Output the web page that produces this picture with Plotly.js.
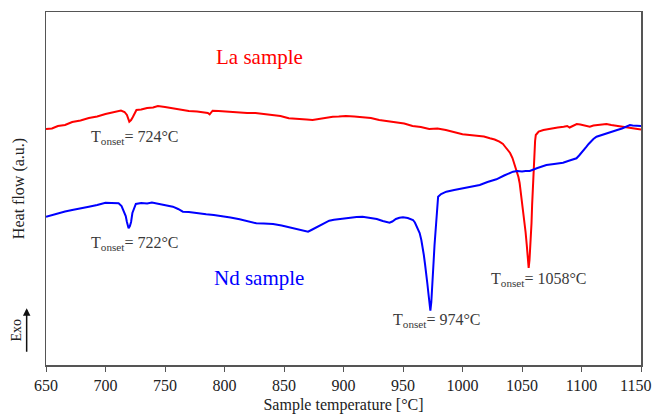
<!DOCTYPE html>
<html>
<head>
<meta charset="utf-8">
<script src="https://cdn.plot.ly/plotly-3.0.1.min.js"></script>
<style>html,body{margin:0;padding:0;background:#fff;}#chart{width:655px;height:419px;}</style>
</head>
<body>
<div id="chart"></div>
<script>
// Sample temperature [°C] and heat flow (a.u.)
var laTemp = [650,655,660,666,672,679,686,693,700,705,710,713,716,718,720,721.5,723,726,730,735,740,744,750,756,763,770,777,783,786,787.5,790,795,800,806,812,819,826,833,840,847,854,859,864,869,874,879,884,891,896,902,909,916,923,930,937,944,951,958,965,972,979,986,993,1000,1006,1012,1018,1023,1027,1031,1034,1036,1038,1040,1042,1044,1046,1047,1048,1049,1050,1051,1052,1053,1054,1055,1055.6,1056.3,1057.3,1058,1058.5,1059,1059.5,1060,1060.5,1061,1061.6,1064,1068,1072,1076,1080,1085,1088,1090,1093,1096,1099,1101,1104,1107,1110,1114,1118,1121,1125,1128,1131,1135,1138,1142,1146,1150];
var laHeat = [23.6,23.65,23.9,24.0,24.3,24.45,24.7,24.85,25.1,25.25,25.43,25.45,25.3,25.0,24.33,24.5,24.8,25.5,25.55,25.7,25.75,25.9,25.8,25.67,25.55,25.4,25.35,25.3,25.2,25.07,25.43,25.4,25.35,25.35,25.27,25.2,25.2,25.1,25.07,24.9,24.67,24.65,24.6,24.55,24.5,24.6,24.75,24.83,24.85,24.9,24.85,24.77,24.7,24.5,24.4,24.23,24.15,23.9,23.8,23.6,23.65,23.5,23.3,23.07,23.0,22.9,22.85,22.67,22.55,22.33,22.1,21.8,21.55,21.2,20.7,20.0,19.3,18.8,18.2,17.3,16.5,15.5,14.5,13.3,12.0,10.8,9.7,10.5,12.2,14.2,16.0,17.5,19.0,20.3,21.5,22.4,23.0,23.35,23.5,23.6,23.7,23.75,23.83,23.9,23.75,23.95,24.1,24.05,24.0,23.9,23.83,23.95,24.0,24.05,24.1,24.0,23.95,23.9,23.83,23.78,23.7,23.62,23.55];

var ndTemp = [650,655,660,666,672,679,686,693,700,705,711,713.5,715.5,717,718,719.4,720.5,721.5,722.6,724,725.5,730,735,739,742.5,748,756.6,761,765,770,775,780,784.6,791,798.7,805,812.7,819,826.7,833,840.8,848,854.8,858,862,866,870.2,873,876,879,882.8,885,888,892,896.6,901,906,911,916,922,928,933,938.7,941,944,947,950,954,958.4,960,962,964,965.4,966.5,967.5,968.5,969.6,970.5,971.5,972.3,973,973.8,974.5,975.2,975.8,976.5,977,977.5,978,978.5,979,979.5,982,986.4,993,1000.4,1007,1014.5,1021,1028.5,1035,1042.5,1046,1050,1053,1056.5,1063,1070.5,1077,1084.5,1090,1095.8,1098,1100,1102,1104.2,1106,1108,1110,1112.6,1119,1126.7,1130,1134,1137,1140.7,1143,1146,1150];
var ndHeat = [14.83,15.0,15.2,15.35,15.5,15.7,15.83,16.0,16.23,16.2,16.17,15.9,15.33,14.9,14.3,13.67,13.9,14.3,15.2,15.7,16.1,16.2,16.15,16.25,16.17,16.05,15.83,15.6,15.33,15.3,15.2,15.15,15.07,15.0,14.9,14.75,14.57,14.4,14.17,14.15,14.1,13.95,13.77,13.7,13.6,13.45,13.33,13.5,13.7,13.9,14.1,14.3,14.43,14.52,14.6,14.7,14.75,14.8,14.83,14.75,14.6,14.4,14.23,14.35,14.6,14.72,14.77,14.7,14.5,14.25,13.8,13.2,12.5,11.8,11.0,10.1,9.17,8.1,7.0,6.2,5.43,6.3,7.5,9.17,10.5,12.0,12.9,13.83,14.8,15.7,16.3,16.83,17.1,17.33,17.5,17.67,17.85,18.0,18.3,18.57,18.95,19.33,19.4,19.35,19.4,19.4,19.7,20.0,20.1,20.23,20.45,20.67,20.95,21.2,21.5,21.83,22.1,22.4,22.6,22.83,23.05,23.33,23.5,23.65,23.8,24.0,23.95,23.93,23.9];

var xTicks = [650,700,750,800,850,900,950,1000,1050,1100,1150];
// the last tick label is drawn as an annotation so it stays inside the page
var xTickText = xTicks.map(function (v, i) { return i === xTicks.length - 1 ? "" : String(v); });
var lastTick = xTicks[xTicks.length - 1];

var serif = "Liberation Serif";
var labelColor = "#3a3a3a";

var data = [
  {x: laTemp, y: laHeat, type: "scatter", mode: "lines", name: "La sample",
   line: {color: "#ff0000", width: 2}},
  {x: ndTemp, y: ndHeat, type: "scatter", mode: "lines", name: "Nd sample",
   line: {color: "#0000ff", width: 2}}
];

var layout = {
  width: 655, height: 419,
  margin: {l: 46, r: 14, t: 12, b: 54},
  paper_bgcolor: "#ffffff", plot_bgcolor: "#ffffff",
  showlegend: false,
  font: {family: serif, size: 16, color: "#222"},
  xaxis: {
    range: [650, 1150], tickvals: xTicks, ticktext: xTickText,
    ticks: "outside", ticklen: 5, tickwidth: 1, tickcolor: "#555",
    showline: true, linecolor: "#555", linewidth: 1.5, mirror: true,
    showgrid: false, zeroline: false,
    tickfont: {family: serif, size: 16, color: "#222"},
    title: {text: "Sample temperature [°C]", font: {family: serif, size: 16, color: "#222"}, standoff: 6}
  },
  yaxis: {
    range: [0, 35.3], showticklabels: false, ticks: "",
    showline: true, linecolor: "#555", linewidth: 1.5, mirror: true,
    showgrid: false, zeroline: false
  },
  annotations: [
    {xref: "x", yref: "paper", x: lastTick, y: 0, text: String(lastTick), showarrow: false,
     xanchor: "right", yanchor: "middle", xshift: 12, yshift: -20,
     font: {family: serif, size: 16, color: "#222"}},
    {xref: "paper", yref: "paper", x: -0.046, y: 0.5, text: "Heat flow (a.u.)", textangle: -90,
     showarrow: false, font: {family: serif, size: 16, color: "#222"}, xanchor: "center", yanchor: "middle"},
    {xref: "paper", yref: "paper", x: -0.049, y: 0.1, text: "Exo", textangle: -90,
     showarrow: false, font: {family: serif, size: 14, color: "#222"}, xanchor: "center", yanchor: "middle"},
    {xref: "paper", yref: "paper", x: -0.0325, y: 0.161, text: "", showarrow: true,
     ax: 0, ay: 45, arrowhead: 2, arrowsize: 1, arrowwidth: 1.5, arrowcolor: "#111"},
    {x: 829, y: 30.8, text: "La sample", showarrow: false,
     font: {family: serif, size: 21, color: "#ff0000"}},
    {x: 829, y: 8.7, text: "Nd sample", showarrow: false,
     font: {family: serif, size: 21, color: "#0000ff"}},
    {x: 686, y: 22.8, text: "T<sub>onset</sub>= 724°C", showarrow: false, xanchor: "left",
     font: {family: serif, size: 16, color: labelColor}},
    {x: 686, y: 12.2, text: "T<sub>onset</sub>= 722°C", showarrow: false, xanchor: "left",
     font: {family: serif, size: 16, color: labelColor}},
    {x: 940, y: 4.5, text: "T<sub>onset</sub>= 974°C", showarrow: false, xanchor: "left",
     font: {family: serif, size: 16, color: labelColor}},
    {x: 1022, y: 8.6, text: "T<sub>onset</sub>= 1058°C", showarrow: false, xanchor: "left",
     font: {family: serif, size: 16, color: labelColor}}
  ]
};

Plotly.newPlot("chart", data, layout, {displayModeBar: false, staticPlot: true});
</script>
</body>
</html>
